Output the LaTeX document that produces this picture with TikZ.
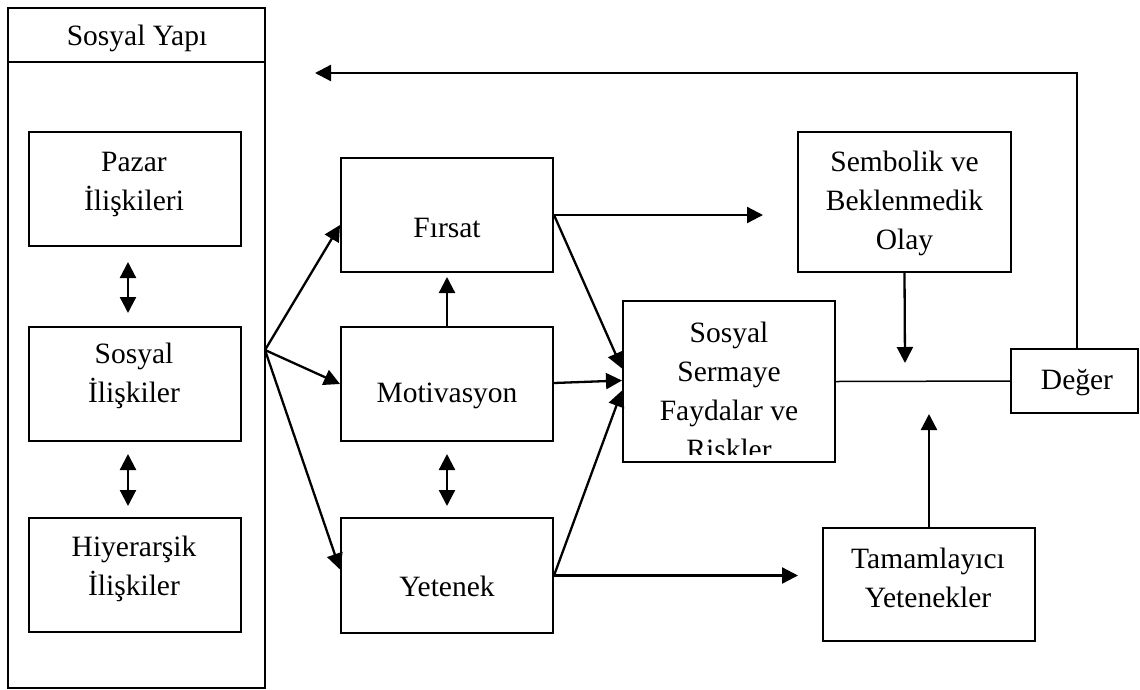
\documentclass[tikz,border=0pt]{standalone}
\usepackage{fontspec}
\setmainfont{Liberation Serif}
\usetikzlibrary{arrows.meta,calc}
\begin{document}
\begin{tikzpicture}[x=1pt,y=-1pt,
  font=\fontsize{29.5}{39}\selectfont,
  box/.style={draw, line width=2pt, inner sep=0pt},
  txt/.style={align=center, inner sep=0pt},
  arr/.style={line width=2.3pt, -{Triangle[length=16pt,width=16pt]}},
  darr/.style={line width=2.3pt, {Triangle[length=16pt,width=16pt]}-{Triangle[length=16pt,width=16pt]}},
  thin line/.style={line width=1.5pt}]
\useasboundingbox (0,0) rectangle (1140,689);

% outer structure
\node[box, minimum width=257pt, minimum height=680pt] (outer) at (136.5,348) {};
\node[box, minimum width=257pt, minimum height=54pt] (hdr) at (136.5,35) {};
\node[txt] (t_hdr) at (137,38.5) {Sosyal Yapı};

% left boxes
\node[box, minimum width=212pt, minimum height=114pt] (pazar) at (135,189) {};
\node[box, minimum width=212pt, minimum height=114pt] (sosyal) at (135,384) {};
\node[box, minimum width=212pt, minimum height=114pt] (hiyer) at (135,575) {};
\node[txt] (t_pazar) at (134,184) {Pazar\\İlişkileri};
\node[txt] (t_sosyal) at (134,376) {Sosyal\\İlişkiler};
\node[txt] (t_hiyer) at (134,569) {Hiyerarşik\\İlişkiler};

% middle boxes
\node[box, minimum width=212pt, minimum height=114pt] (firsat) at (447,215) {};
\node[box, minimum width=212pt, minimum height=114pt] (motiv) at (447,384) {};
\node[box, minimum width=212pt, minimum height=115pt] (yetenek) at (447,575.5) {};
\node[txt] (t_firsat) at (447,228) {Fırsat};
\node[txt] (t_motiv) at (447,395.5) {Motivasyon};
\node[txt] (t_yetenek) at (447,586) {Yetenek};

% right boxes
\node[box, minimum width=212pt, minimum height=161pt] (sermaye) at (729,381.5) {};
\begin{scope}
  \clip (sermaye.north west) rectangle ($(sermaye.south east)+(0,-9)$);
  \node[txt] (t_sermaye) at (729,390.5) {Sosyal\\Sermaye\\Faydalar ve\\Riskler};
\end{scope}
\node[box, minimum width=213pt, minimum height=140pt] (sembolik) at (904.5,202) {};
\node[txt] (t_sembolik) at (904.5,203.5) {Sembolik ve\\Beklenmedik\\Olay};
\node[box, minimum width=127pt, minimum height=64pt] (deger) at (1074.5,381) {};
\node[txt] (t_deger) at (1077,382.5) {Değer};
\node[box, minimum width=212pt, minimum height=113pt] (tamam) at (929,584.5) {};
\node[txt] (t_tamam) at (928,577.5) {Tamamlayıcı\\Yetenekler};

% connectors
\coordinate (apex) at (265,350);
\draw[arr] (apex) -- ($(firsat.west)+(0,10)$);
\draw[arr] (apex) -- (motiv.west);
\draw[arr] (apex) -- ($(yetenek.west)+(0,-6)$);

\draw[darr] ($(pazar.south)+(-7,15)$) -- ($(sosyal.north)+(-7,-13)$);
\draw[darr] ($(sosyal.south)+(-7,12)$) -- ($(hiyer.north)+(-7,-11)$);

\draw[arr] (motiv.north) -- ($(firsat.south)+(0,4)$);
\draw[darr] ($(motiv.south)+(0,12)$) -- ($(yetenek.north)+(0,-11)$);

\draw[arr] (firsat.east) -- ($(sermaye.west)+(0,-13)$);
\draw[arr] ($(motiv.east)+(0,-1)$) -- ($(sermaye.west)+(0,-1)$);
\draw[arr] (yetenek.east) -- ($(sermaye.west)+(0,9)$);

\coordinate (f_end) at (763,215);
\draw[arr] (firsat.east) -- (f_end);
\coordinate (y_end) at (798,575.5);
\draw[arr] (yetenek.east) -- (y_end);

\draw[thin line] (sermaye.east) -- (deger.west);
\coordinate (s_end) at (905,363);
\draw[arr] (sembolik.south) -- (s_end);
\coordinate (t_end) at (929,414);
\draw[arr] (tamam.north) -- (t_end);

\coordinate (fb_end) at (315,73);
\draw[arr] ($(deger.north)+(2.5,0)$) |- (fb_end);
\end{tikzpicture}
\end{document}
